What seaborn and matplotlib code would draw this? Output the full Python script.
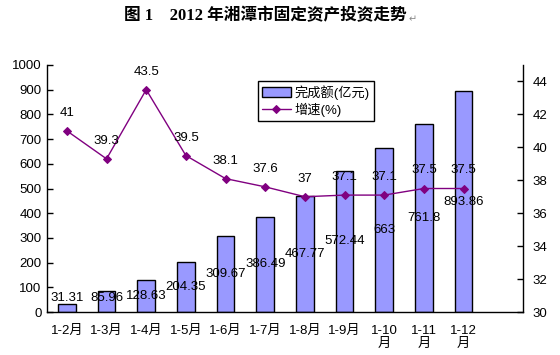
import numpy as np
import pandas as pd
import matplotlib
matplotlib.use("Agg")
import matplotlib.pyplot as plt
import seaborn as sns

categories = ['1-2月', '1-3月', '1-4月', '1-5月', '1-6月', '1-7月', '1-8月', '1-9月',
              '1-10\n月', '1-11\n月', '1-12\n月']
amount = [31.31, 85.96, 128.63, 204.35, 309.67, 386.49, 467.77, 572.44, 663, 761.8, 893.86]
amount_labels = ['31.31', '85.96', '128.63', '204.35', '309.67', '386.49', '467.77',
                 '572.44', '663', '761.8', '893.86']
growth = [41, 39.3, 43.5, 39.5, 38.1, 37.6, 37, 37.1, 37.1, 37.5, 37.5]
growth_labels = ['41', '39.3', '43.5', '39.5', '38.1', '37.6', '37', '37.1', '37.1', '37.5', '37.5']
left_ticks = list(range(0, 1001, 100))
right_ticks = list(range(30, 45, 2))

sns.set_style('white')
plt.rcParams['font.family'] = ['Liberation Sans', 'Noto Sans CJK SC', 'DejaVu Sans']
plt.rcParams['font.size'] = 9.5
for k in ['text.color', 'axes.labelcolor', 'xtick.color', 'ytick.color']:
    plt.rcParams[k] = 'black'

df = pd.DataFrame({'cat': categories, 'amount': amount, 'growth': growth})
pos = np.arange(len(categories))

fig = plt.figure(figsize=(5.6, 3.55), dpi=100)
ax = fig.add_axes([0.084, 0.121, 0.85, 0.696])

sns.barplot(data=df, x='cat', y='amount', ax=ax, color='#9999FF', saturation=1,
            width=0.44, edgecolor='black', linewidth=1, label='完成额(亿元)')
ax.set_xlim(-0.5, len(categories) + 0.5)
ax.set_ylim(0, 1000)
ax.set_yticks(left_ticks)
ax.set_xlabel('')
ax.set_ylabel('')
ax.tick_params(axis='y', direction='in', length=4, width=1, colors='black', labelsize=9.5, pad=4)
ax.tick_params(axis='x', which='major', length=0, labelsize=9.5, pad=9)
ax.set_xticks(np.arange(len(categories) + 1) - 0.5, minor=True)
ax.tick_params(axis='x', which='minor', direction='in', length=4, width=1, color='black')
for s in ['top', 'right']:
    ax.spines[s].set_visible(False)
for s in ['left', 'bottom']:
    ax.spines[s].set_color('black')
    ax.spines[s].set_linewidth(1)

for i, (v, lab) in enumerate(zip(amount, amount_labels)):
    ax.text(i, max(v / 2, 57), lab, ha='center', va='center', fontsize=9.5, zorder=5)

ax2 = ax.twinx()
sns.lineplot(x=pos, y=growth, ax=ax2, color='#800080', marker='D', markersize=4.5,
             markeredgecolor='#800080', linewidth=1, label='增速(%)')
ax2.set_ylim(30, 45)
ax2.set_yticks(right_ticks)
ax2.tick_params(axis='y', direction='in', length=4, width=1, colors='black', labelsize=9.5, pad=7)
for s in ['top', 'left', 'bottom']:
    ax2.spines[s].set_visible(False)
ax2.spines['right'].set_color('black')
ax2.spines['right'].set_linewidth(1)

for i, (v, lab) in enumerate(zip(growth, growth_labels)):
    ax2.annotate(lab, (i, v), xytext=(0, 13), textcoords='offset points',
                 ha='center', va='center', fontsize=9.5, zorder=6)

h1, l1 = ax.get_legend_handles_labels()
h2, l2 = ax2.get_legend_handles_labels()
if ax2.get_legend():
    ax2.get_legend().remove()
if ax.get_legend():
    ax.get_legend().remove()
leg = ax2.legend(h1 + h2, l1 + l2, loc='upper left', bbox_to_anchor=(0.443, 0.935),
                 fancybox=False, edgecolor='black', framealpha=1, fontsize=9.5,
                 borderpad=0.3, handlelength=2.2, handletextpad=0.3, labelspacing=0.2,
                 borderaxespad=0)
leg.get_frame().set_linewidth(1)

title = fig.text(0.473, 0.955, '图 1    2012 年湘潭市固定资产投资走势',
                 ha='center', va='center', fontsize=12, fontweight='bold',
                 family=['Liberation Serif', 'Noto Sans CJK SC', 'DejaVu Sans'])
fig.canvas.draw()
bb = title.get_window_extent(renderer=fig.canvas.get_renderer())
x_end = (bb.x1 + 2) / fig.bbox.width
fig.text(x_end, 0.945, '↵', ha='left', va='center', fontsize=7, color='#888888',
         family=['DejaVu Sans'])

fig.savefig('out.png', dpi=100, facecolor='white')
